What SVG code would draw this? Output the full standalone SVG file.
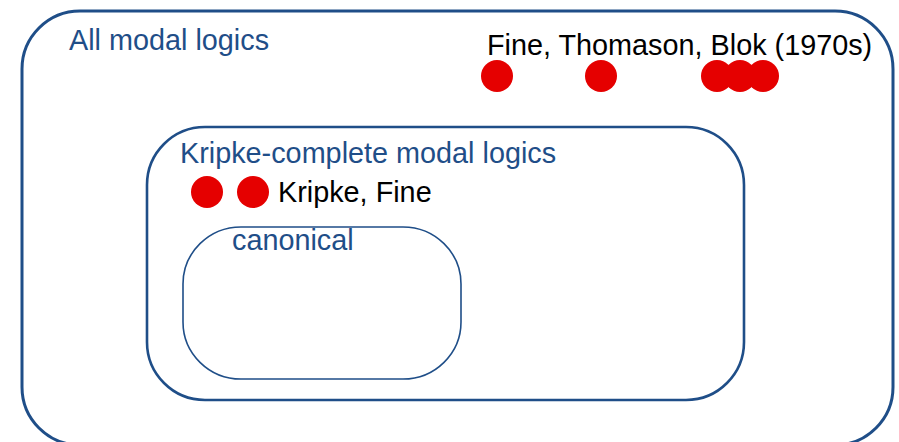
<svg xmlns="http://www.w3.org/2000/svg" width="899" height="442" viewBox="0 0 899 442">
  <style>
    .box { fill: none; stroke: #1F4E88; }
    .label { font-family: "Liberation Sans", Arial, sans-serif; font-size: 28.8px; }
    .set { fill: #1F4E88; }
    .who { fill: #000000; }
    .dot { fill: #E50000; }
  </style>
  <rect width="899" height="442" fill="#FFFFFF"/>

  <g id="all-modal-logics">
    <rect class="box" x="22" y="11" width="871" height="434" rx="58" ry="58" stroke-width="3"/>
    <text class="label set" x="69" y="50">All modal logics</text>
  </g>

  <g id="fine-thomason-blok">
    <text class="label who" x="487" y="55">Fine, Thomason, Blok (1970s)</text>
    <circle class="dot" cx="497" cy="76" r="16"/>
    <circle class="dot" cx="601" cy="76" r="16"/>
    <circle class="dot" cx="717" cy="76" r="16"/>
    <circle class="dot" cx="740" cy="76" r="16"/>
    <circle class="dot" cx="763" cy="76" r="16"/>
  </g>

  <g id="kripke-complete">
    <rect class="box" x="147" y="127" width="597" height="273" rx="58" ry="58" stroke-width="2.6"/>
    <text class="label set" x="180" y="163">Kripke-complete modal logics</text>
  </g>

  <g id="kripke-fine">
    <circle class="dot" cx="207" cy="192" r="16"/>
    <circle class="dot" cx="253" cy="192" r="16"/>
    <text class="label who" x="278" y="202">Kripke, Fine</text>
  </g>

  <g id="canonical">
    <rect class="box" x="183" y="227" width="278" height="152" rx="58" ry="57" stroke-width="1.6"/>
    <text class="label set" x="232" y="250">canonical</text>
  </g>

  <g id="connectors"></g>
</svg>
